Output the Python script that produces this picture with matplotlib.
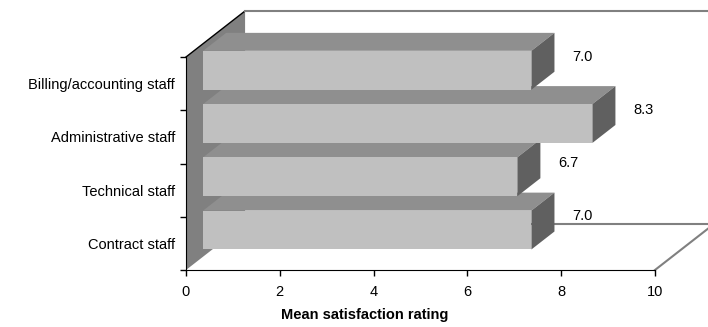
import matplotlib.pyplot as plt
from matplotlib.patches import Polygon

plt.rcParams['font.family'] = ['Liberation Sans', 'DejaVu Sans']
plt.rcParams['font.size'] = 10.5

# Mean satisfaction by staff group (bottom to top)
categories = ['Contract staff', 'Technical staff', 'Administrative staff',
              'Billing/accounting staff']
ratings = [7.0, 6.7, 8.3, 7.0]
x_ticks = [0, 2, 4, 6, 8, 10]

fig = plt.figure(figsize=(7.08, 3.27), dpi=100)
ax = fig.add_axes([0.2627, 0.1743, 0.6624, 0.6514])
ax.set_xlim(0, 10)
ax.set_ylim(-0.5, 3.5)

# depth of the 3D box (data units) and where the bars sit inside it
DX, DY = 1.26, 0.865
f0, f1 = 0.29, 0.68
h = 0.365
n = len(categories)
lo, hi = -0.5, n - 0.5


def poly(pts, fc, z):
    ax.add_patch(Polygon(pts, closed=True, fc=fc, ec='none', zorder=z,
                         clip_on=False))


# left wall
poly([(0, lo), (0, hi), (DX, hi + DY), (DX, lo + DY)], '#808080', 0.5)
# wall / floor edges
ax.plot([0, DX], [hi, hi + DY], color='black', lw=1, clip_on=False, zorder=1)
ax.plot([DX, 10 + DX], [hi + DY, hi + DY], color='#808080', lw=1.5,
        clip_on=False, zorder=1)
ax.plot([DX, 10 + DX], [lo + DY, lo + DY], color='#808080', lw=1.5,
        clip_on=False, zorder=1)
ax.plot([10, 10 + DX], [lo, lo + DY], color='#808080', lw=1.5,
        clip_on=False, zorder=1)

bx, by = (f1 - f0) * DX, (f1 - f0) * DY
for i, v in enumerate(ratings):
    x0 = f0 * DX
    y0 = i - h + f0 * DY
    y1 = i + h + f0 * DY
    z = 2 + 3 * i
    # top face
    poly([(x0, y1), (x0 + v, y1), (x0 + v + bx, y1 + by), (x0 + bx, y1 + by)],
         '#8f8f8f', z)
    # right face
    poly([(x0 + v, y0), (x0 + v + bx, y0 + by), (x0 + v + bx, y1 + by),
          (x0 + v, y1)], '#606060', z + 1)
    # front face
    ax.barh(i + f0 * DY, v, left=x0, height=2 * h, color='#c0c0c0',
            zorder=z + 2, clip_on=False)
    ax.text(v + f1 * DX + 0.6, i + f1 * DY - 0.08, f'{v:.1f}',
            ha='center', va='center', zorder=20)

for s in ['top', 'right']:
    ax.spines[s].set_visible(False)
for s in ['left', 'bottom']:
    ax.spines[s].set_color('black')
    ax.spines[s].set_zorder(30)

ax.set_xticks(x_ticks)
ax.set_xticklabels([str(t) for t in x_ticks])
ax.set_yticks([k - 0.5 for k in range(n + 1)])
ax.set_yticklabels([])
ax.set_yticks(range(n), minor=True)
ax.set_yticklabels(categories, minor=True)
ax.tick_params(axis='y', which='minor', length=0, pad=8)
ax.tick_params(axis='both', which='major', length=4, width=1, color='black')
ax.tick_params(axis='x', pad=7)

ax.set_xlabel('Mean satisfaction rating', fontweight='bold', va='center')
ax.xaxis.set_label_coords(0.382, -0.212)

fig.savefig('out.png', dpi=100)
